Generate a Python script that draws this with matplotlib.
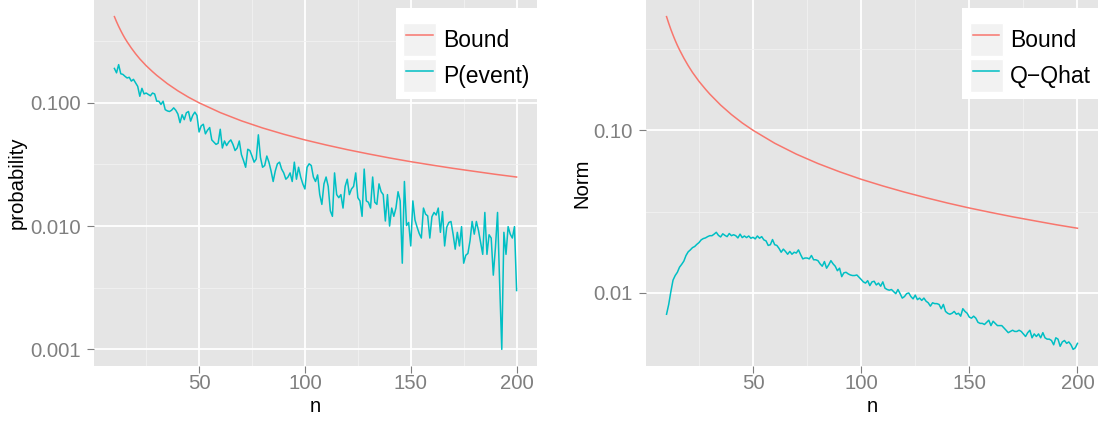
import numpy as np
import matplotlib
matplotlib.use("Agg")
import matplotlib.pyplot as plt
from matplotlib.legend_handler import HandlerLine2D
from matplotlib.patches import Rectangle
from matplotlib.lines import Line2D

plt.rcParams['font.family'] = ['Liberation Sans', 'DejaVu Sans']

# sample sizes
n = np.arange(10, 201)

# theoretical bound, same for both panels
bound_n = [10, 11, 12, 13, 14, 15, 16, 18, 20, 22, 25, 28, 30, 35, 40, 45, 50,
           60, 70, 80, 90, 100, 110, 120, 130, 140, 150, 160, 170, 180, 190, 200]
bound = [0.500, 0.455, 0.417, 0.385, 0.357, 0.333, 0.3125, 0.278, 0.250, 0.227,
         0.200, 0.179, 0.167, 0.143, 0.125, 0.111, 0.100, 0.0833, 0.0714, 0.0625,
         0.0556, 0.0500, 0.0455, 0.0417, 0.0385, 0.0357, 0.0333, 0.03125, 0.0294,
         0.0278, 0.0263, 0.0250]

# empirical probability of the event, n = 10..200
p_event = [
    0.190, 0.175, 0.204, 0.172, 0.170, 0.164, 0.159, 0.161, 0.150, 0.155,
    0.145, 0.136, 0.113, 0.131, 0.118, 0.120, 0.117, 0.114, 0.120, 0.118,
    0.103, 0.103, 0.097, 0.103, 0.088, 0.086, 0.085, 0.087, 0.091, 0.087,
    0.081, 0.069, 0.080, 0.073, 0.083, 0.085, 0.071, 0.079, 0.084, 0.079,
    0.058, 0.065, 0.067, 0.056, 0.060, 0.063, 0.050, 0.048, 0.046, 0.047,
    0.061, 0.043, 0.049, 0.045, 0.048, 0.050, 0.046, 0.041, 0.043, 0.049,
    0.038, 0.034, 0.030, 0.042, 0.041, 0.037, 0.033, 0.035, 0.055, 0.036,
    0.030, 0.031, 0.037, 0.033, 0.028, 0.023, 0.028, 0.032, 0.033, 0.029,
    0.027, 0.024, 0.025, 0.027, 0.023, 0.033, 0.024, 0.030, 0.025, 0.022,
    0.020, 0.030, 0.032, 0.031, 0.025, 0.023, 0.026, 0.018, 0.015, 0.022,
    0.025, 0.021, 0.0133, 0.012, 0.027, 0.018, 0.017, 0.018, 0.014, 0.021,
    0.024, 0.018, 0.020, 0.021, 0.027, 0.017, 0.016, 0.012, 0.029, 0.016,
    0.0156, 0.014, 0.025, 0.0156, 0.015, 0.022, 0.019, 0.018, 0.011, 0.018,
    0.010, 0.014, 0.012, 0.014, 0.019, 0.016, 0.0050, 0.023, 0.0101, 0.0107,
    0.0069, 0.016, 0.0112, 0.0098, 0.0087, 0.0080, 0.014, 0.0125, 0.0121, 0.0080,
    0.0119, 0.0129, 0.0123, 0.014, 0.0089, 0.0131, 0.0069, 0.0098, 0.0107, 0.0109,
    0.0086, 0.0065, 0.0089, 0.0069, 0.0099, 0.0050, 0.0058, 0.0060, 0.0076, 0.0109,
    0.0086, 0.0109, 0.0092, 0.0074, 0.0059, 0.0129, 0.0059, 0.0085, 0.0080, 0.0040,
    0.0067, 0.0129, 0.0034, 0.0010, 0.0089, 0.0059, 0.0099, 0.0086, 0.0080, 0.0099,
    0.0030,
]

# norm of Q - Qhat, n = 10..200
q_diff = [
    0.0074, 0.0085, 0.0102, 0.0120, 0.0128, 0.0134, 0.0144, 0.0150, 0.0157, 0.0170,
    0.0179, 0.0184, 0.0190, 0.0193, 0.0199, 0.0204, 0.0212, 0.0216, 0.0218, 0.0222,
    0.0225, 0.0225, 0.0230, 0.0236, 0.0226, 0.0221, 0.0231, 0.0226, 0.0222, 0.0232,
    0.0225, 0.0228, 0.0225, 0.0218, 0.0230, 0.0219, 0.0224, 0.0219, 0.0224, 0.0217,
    0.0220, 0.0215, 0.0224, 0.0217, 0.0222, 0.0212, 0.0209, 0.0196, 0.0198, 0.0213,
    0.0198, 0.0196, 0.0188, 0.0178, 0.0186, 0.0180, 0.0173, 0.0180, 0.0173, 0.0178,
    0.0176, 0.0184, 0.0172, 0.0162, 0.0164, 0.0164, 0.0162, 0.0170, 0.0160, 0.0160,
    0.0158, 0.0151, 0.0146, 0.0156, 0.0142, 0.0149, 0.0158, 0.0151, 0.0146, 0.0137,
    0.0142, 0.0126, 0.0133, 0.0134, 0.0131, 0.0129, 0.0128, 0.0128, 0.0129, 0.0125,
    0.0121, 0.0117, 0.0115, 0.0119, 0.0111, 0.0117, 0.0118, 0.0112, 0.0115, 0.0110,
    0.0117, 0.0107, 0.0105, 0.0104, 0.0105, 0.0102, 0.0099, 0.0105, 0.0099, 0.0093,
    0.0095, 0.0099, 0.0100, 0.0095, 0.0092, 0.0097, 0.0091, 0.0093, 0.0090, 0.0093,
    0.0089, 0.0087, 0.0083, 0.0087, 0.0086, 0.0086, 0.0085, 0.0080, 0.0085, 0.0077,
    0.0075, 0.0074, 0.0075, 0.0077, 0.0074, 0.0075, 0.0072, 0.0080, 0.0077, 0.0075,
    0.0071, 0.0070, 0.0072, 0.0070, 0.0066, 0.0065, 0.0065, 0.0064, 0.0066, 0.0068,
    0.0063, 0.0067, 0.0065, 0.0063, 0.0063, 0.0063, 0.0061, 0.0059, 0.0057, 0.0058,
    0.0059, 0.0058, 0.0058, 0.0059, 0.0058, 0.0056, 0.0054, 0.0057, 0.0059, 0.0053,
    0.0056, 0.0054, 0.0056, 0.0053, 0.0057, 0.0053, 0.0052, 0.0052, 0.0051, 0.0048,
    0.0053, 0.0052, 0.0047, 0.0050, 0.0051, 0.0049, 0.0050, 0.0048, 0.0045, 0.0046,
    0.0049,
]

x_ticks = [50, 100, 150, 200]
x_minor = [25, 75, 125, 175]
left_ticks = [0.001, 0.01, 0.1]
left_labels = ['0.001', '0.010', '0.100']
right_ticks = [0.01, 0.1]
right_labels = ['0.01', '0.10']

RED = '#F8766D'
CYAN = '#00BFC4'
GREY = '#7F7F7F'


class KeyHandler(HandlerLine2D):
    """Legend key drawn on a light grey square, like ggplot."""

    def create_artists(self, legend, orig_handle, xdescent, ydescent,
                       width, height, fontsize, trans):
        arts = super().create_artists(legend, orig_handle, xdescent, ydescent,
                                      width, height, fontsize, trans)
        inset = 0.1 * width
        line = arts[0]
        ys = np.asarray(line.get_ydata())
        xs = np.linspace(-xdescent + inset, -xdescent + width - inset, len(ys))
        line.set_data(xs, ys)
        bg = Rectangle((-xdescent, -ydescent), width, height,
                       facecolor='#F2F2F2', edgecolor='white', lw=1.0,
                       transform=trans)
        return [bg] + list(arts)


def log_limits(*series, frac=0.05):
    lo = np.log10(min(min(s) for s in series))
    hi = np.log10(max(max(s) for s in series))
    pad = (hi - lo) * frac
    return 10 ** (lo - pad), 10 ** (hi + pad)


def style_panel(ax, ticks, labels, ylims):
    ax.set_facecolor('#E5E5E5')
    ax.set_yscale('log')
    ax.set_ylim(*ylims)
    pad = (n.max() - n.min()) * 0.05
    ax.set_xlim(n.min() - pad, n.max() + pad)

    ax.set_xticks(x_ticks)
    ax.set_xticks(x_minor, minor=True)
    ax.set_yticks(ticks)
    ax.set_yticklabels(labels)
    lo, hi = ylims
    mids = [10 ** (np.log10(t) - 0.5) for t in ticks] + [10 ** (np.log10(ticks[-1]) + 0.5)]
    ax.set_yticks([m for m in mids if lo < m < hi], minor=True)
    ax.yaxis.set_minor_formatter(plt.NullFormatter())

    ax.grid(which='major', color='white', lw=1.3, zorder=0)
    ax.grid(which='minor', color='#F2F2F2', lw=0.6, zorder=0)
    ax.set_axisbelow(True)
    for s in ax.spines.values():
        s.set_visible(False)
    ax.tick_params(which='major', length=5, width=0.8, color=GREY,
                   labelcolor=GREY, labelsize=14.6)
    ax.tick_params(axis='x', which='major', pad=1)
    ax.tick_params(axis='y', which='major', pad=4.5)
    ax.tick_params(which='minor', length=0)


fig = plt.figure(figsize=(11.12, 4.21), dpi=100)
W, H = 1112, 421
ax1 = fig.add_axes([94.3 / W, 55 / H, 442.4 / W, 366 / H])
ax2 = fig.add_axes([646 / W, 55 / H, 452 / W, 366 / H])

panels = [
    (ax1, p_event, 'P(event)', 'probability', left_ticks, left_labels, -0.153),
    (ax2, q_diff, 'Q\u2212Qhat', 'Norm', right_ticks, right_labels, -0.12),
]

for ax, series, name, ylabel, ticks, labels, ylab_x in panels:
    ax.plot(bound_n, bound, color=RED, lw=1.1, label='Bound')
    ax.plot(n, series, color=CYAN, lw=1.1, label=name)
    style_panel(ax, ticks, labels, log_limits(bound, series))

    ax.set_xlabel('n', fontsize=14.6)
    ax.xaxis.set_label_coords(0.5, -0.084)
    ax.set_ylabel(ylabel, fontsize=14.6)
    ax.yaxis.set_label_coords(ylab_x, 0.5)

    # blank title leaves the empty header row ggplot reserves above the keys
    handles = [Line2D([], [], color=RED, lw=1.1), Line2D([], [], color=CYAN, lw=1.1)]
    leg = ax.legend(handles, ['Bound', name], loc='upper right',
                    bbox_to_anchor=(1.0, 1 - 8.3 / 366), borderaxespad=0,
                    prop={'size': 16.5}, frameon=True, fancybox=False,
                    framealpha=1, facecolor='white', edgecolor='none',
                    handlelength=1.44, handleheight=1.82, labelspacing=0.12,
                    handletextpad=0.3, borderpad=0.32,
                    title=' ', title_fontsize=4,
                    handler_map={Line2D: KeyHandler()})

fig.savefig('out.png', dpi=100)
